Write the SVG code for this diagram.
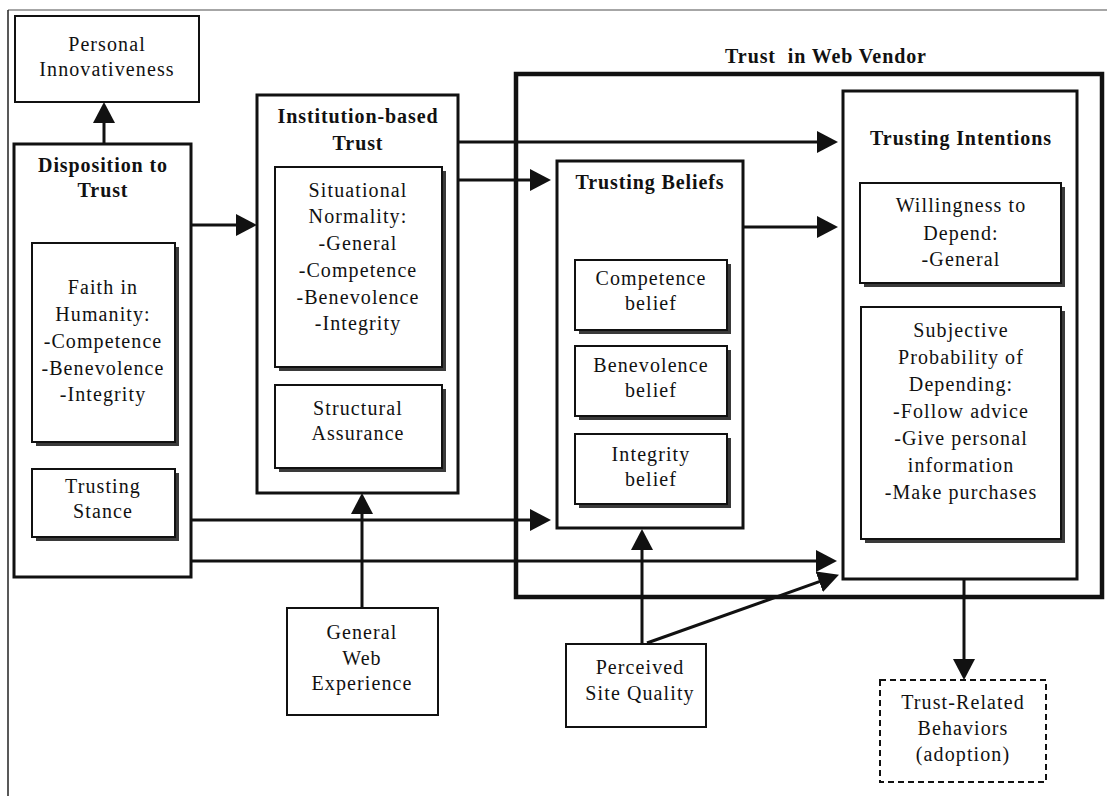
<svg xmlns="http://www.w3.org/2000/svg" width="1107" height="796" viewBox="0 0 1107 796">
<style>
text{font-family:"Liberation Serif","Times New Roman",serif;font-size:20px;fill:#111;text-anchor:middle;letter-spacing:1.1px}
.b{font-weight:bold;letter-spacing:0.9px}
.thin{fill:#fff;stroke:#111;stroke-width:2}
.thick{fill:#fff;stroke:#111;stroke-width:3}
.big{fill:none;stroke:#111;stroke-width:4.5}
.sh{fill:#3a3a3a}
.dash{fill:#fff;stroke:#111;stroke-width:2;stroke-dasharray:6 4}
.c{fill:none;stroke:#111;stroke-width:3}
</style>
<defs>
<marker id="ah" markerUnits="userSpaceOnUse" viewBox="0 0 21 22" refX="12" refY="11" markerWidth="21" markerHeight="22" orient="auto">
<path d="M0,0 L21,11 L0,22 Z" fill="#111"/>
</marker>
</defs>
<rect width="1107" height="796" fill="#fff"/>
<g id="frame">
<line x1="8" y1="10" x2="1107" y2="10" stroke="#888" stroke-width="1.5"/>
<line x1="8" y1="10" x2="8" y2="796" stroke="#222" stroke-width="1.5"/>
</g>
<g id="trust-web-vendor">
<rect class="big" x="516" y="74" width="586" height="523"/>
<text class="b" x="826" y="63" xml:space="preserve">Trust  in Web Vendor</text>
</g>
<g id="personal-innovativeness">
<rect class="thin" x="15" y="16" width="184" height="86"/>
<text x="107" y="51">Personal</text>
<text x="107" y="76">Innovativeness</text>
</g>
<g id="disposition">
<rect class="thick" x="14" y="144" width="177" height="433"/>
<text class="b" x="103" y="172">Disposition to</text>
<text class="b" x="103" y="197">Trust</text>
</g>
<g id="faith-in-humanity">
<rect class="sh" x="36" y="247" width="143" height="199"/>
<rect class="thin" x="32" y="243" width="143" height="199"/>
<text x="103" y="294">Faith in</text>
<text x="103" y="321">Humanity:</text>
<text x="103" y="348">-Competence</text>
<text x="103" y="375">-Benevolence</text>
<text x="103" y="401">-Integrity</text>
</g>
<g id="trusting-stance">
<rect class="sh" x="36" y="473" width="143" height="68"/>
<rect class="thin" x="32" y="469" width="143" height="68"/>
<text x="103" y="493">Trusting</text>
<text x="103" y="518">Stance</text>
</g>
<g id="institution-based-trust">
<rect class="thick" x="257" y="95" width="201" height="398"/>
<text class="b" x="358" y="123">Institution-based</text>
<text class="b" x="358" y="150">Trust</text>
</g>
<g id="situational-normality">
<rect class="sh" x="279" y="171" width="167" height="200"/>
<rect class="thin" x="275" y="167" width="167" height="200"/>
<text x="358" y="197">Situational</text>
<text x="358" y="223">Normality:</text>
<text x="358" y="250">-General</text>
<text x="358" y="277">-Competence</text>
<text x="358" y="304">-Benevolence</text>
<text x="358" y="330">-Integrity</text>
</g>
<g id="structural-assurance">
<rect class="sh" x="279" y="389" width="167" height="83"/>
<rect class="thin" x="275" y="385" width="167" height="83"/>
<text x="358" y="415">Structural</text>
<text x="358" y="440">Assurance</text>
</g>
<g id="trusting-beliefs">
<rect class="thick" x="557" y="161" width="186" height="367"/>
<text class="b" x="650" y="189">Trusting Beliefs</text>
</g>
<g id="competence-belief">
<rect class="sh" x="579" y="264" width="152" height="70"/>
<rect class="thin" x="575" y="260" width="152" height="70"/>
<text x="651" y="285">Competence</text>
<text x="651" y="310">belief</text>
</g>
<g id="benevolence-belief">
<rect class="sh" x="579" y="350" width="152" height="70"/>
<rect class="thin" x="575" y="346" width="152" height="70"/>
<text x="651" y="372">Benevolence</text>
<text x="651" y="397">belief</text>
</g>
<g id="integrity-belief">
<rect class="sh" x="579" y="438" width="152" height="70"/>
<rect class="thin" x="575" y="434" width="152" height="70"/>
<text x="651" y="461">Integrity</text>
<text x="651" y="486">belief</text>
</g>
<g id="trusting-intentions">
<rect class="thick" x="843" y="91" width="234" height="488"/>
<text class="b" x="961" y="145">Trusting Intentions</text>
</g>
<g id="willingness-to-depend">
<rect class="sh" x="864" y="187" width="201" height="100"/>
<rect class="thin" x="860" y="183" width="201" height="100"/>
<text x="961" y="212">Willingness to</text>
<text x="961" y="240">Depend:</text>
<text x="961" y="266">-General</text>
</g>
<g id="subjective-probability">
<rect class="sh" x="865" y="311" width="200" height="232"/>
<rect class="thin" x="861" y="307" width="200" height="232"/>
<text x="961" y="337">Subjective</text>
<text x="961" y="364">Probability of</text>
<text x="961" y="391">Depending:</text>
<text x="961" y="418">-Follow advice</text>
<text x="961" y="445">-Give personal</text>
<text x="961" y="472">information</text>
<text x="961" y="499">-Make purchases</text>
</g>
<g id="general-web-experience">
<rect class="thin" x="287" y="608" width="151" height="107"/>
<text x="362" y="639">General</text>
<text x="362" y="665">Web</text>
<text x="362" y="690">Experience</text>
</g>
<g id="perceived-site-quality">
<rect class="thin" x="566" y="644" width="140" height="83"/>
<text x="640" y="674">Perceived</text>
<text x="640" y="700">Site Quality</text>
</g>
<g id="trust-related-behaviors">
<rect class="dash" x="880" y="680" width="166" height="102"/>
<text x="963" y="709">Trust-Related</text>
<text x="963" y="735">Behaviors</text>
<text x="963" y="761">(adoption)</text>
</g>
<g id="connectors">
<path class="c" d="M104,144 V111" marker-end="url(#ah)"/>
<path class="c" d="M191,225 H248" marker-end="url(#ah)"/>
<path class="c" d="M458,142 H829" marker-end="url(#ah)"/>
<path class="c" d="M458,180 H542" marker-end="url(#ah)"/>
<path class="c" d="M743,227 H829" marker-end="url(#ah)"/>
<path class="c" d="M191,520 H542" marker-end="url(#ah)"/>
<path class="c" d="M191,561 H828" marker-end="url(#ah)"/>
<path class="c" d="M362,608 V502" marker-end="url(#ah)"/>
<path class="c" d="M642,644 V538" marker-end="url(#ah)"/>
<path class="c" d="M647,643 L830.5,577.7" marker-end="url(#ah)"/>
<path class="c" d="M964,579 V671" marker-end="url(#ah)"/>
</g>
</svg>
